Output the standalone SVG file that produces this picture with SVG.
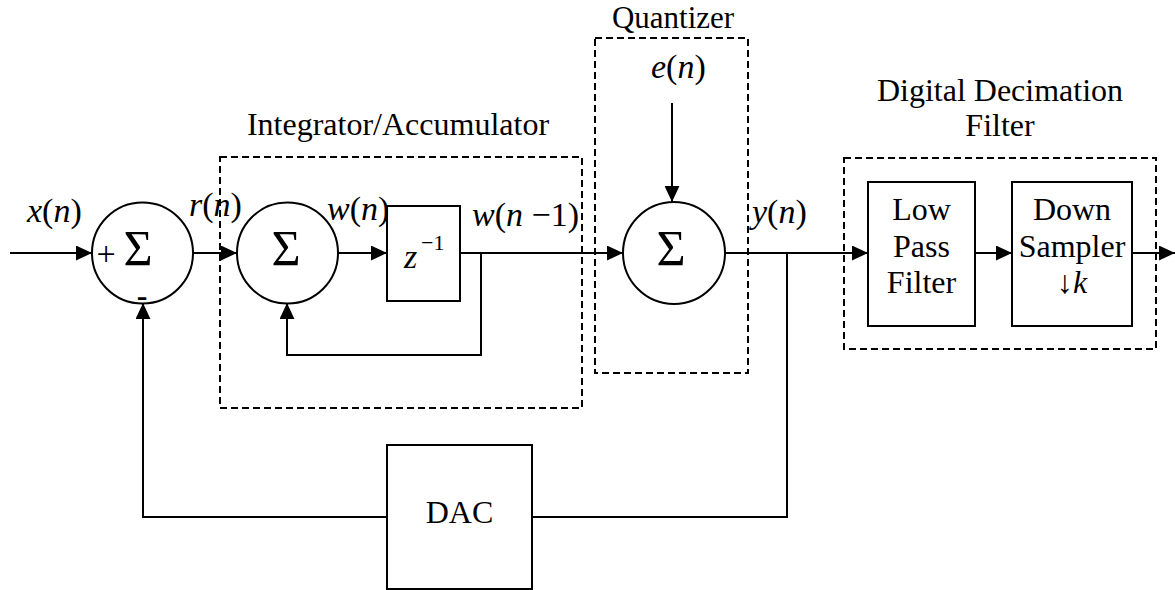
<svg xmlns="http://www.w3.org/2000/svg" width="1175" height="590" viewBox="0 0 1175 590">
<style>
  text { font-family: "Liberation Serif", "Times New Roman", serif; fill: #000; }
  .lbl { font-size: 32px; }
  .math { font-size: 34px; }
  .it { font-style: italic; }
  .sig { font-size: 50px; text-anchor: middle; }
  .c { text-anchor: middle; }
  .blk { fill: #fff; stroke: #000; stroke-width: 2; }
  .dash { fill: none; stroke: #000; stroke-width: 2; stroke-dasharray: 7 4; }
  .wire { fill: none; stroke: #000; stroke-width: 2; }
</style>
<defs>
  <marker id="arr" viewBox="0 0 15 14" refX="15" refY="7" markerWidth="16" markerHeight="15" markerUnits="userSpaceOnUse" orient="auto">
    <path d="M0,0 L15,7 L0,14 Z" fill="#000"/>
  </marker>
</defs>
<rect width="1175" height="590" fill="#fff"/>

<g id="integrator-box">
  <rect class="dash" x="220" y="157" width="362" height="251"/>
  <text class="lbl c" x="398" y="135">Integrator/Accumulator</text>
</g>
<g id="quantizer-box">
  <rect class="dash" x="595" y="38" width="153" height="335"/>
  <text class="lbl c" style="font-size:31px" x="673" y="28">Quantizer</text>
</g>
<g id="decimation-box">
  <rect class="dash" x="844" y="158" width="312" height="191"/>
  <text class="lbl c" x="1000" y="101">Digital Decimation</text>
  <text class="lbl c" x="1000" y="136">Filter</text>
</g>

<g id="connectors">
  <line class="wire" x1="10" y1="253" x2="92" y2="253" marker-end="url(#arr)"/>
  <line class="wire" x1="193" y1="253" x2="237" y2="253" marker-end="url(#arr)"/>
  <line class="wire" x1="338" y1="253" x2="387" y2="253" marker-end="url(#arr)"/>
  <line class="wire" x1="460" y1="253" x2="623" y2="253" marker-end="url(#arr)"/>
  <polyline class="wire" points="481,253 481,355 287,355 287,303" marker-end="url(#arr)"/>
  <line class="wire" x1="672" y1="103" x2="672" y2="202" marker-end="url(#arr)"/>
  <line class="wire" x1="725" y1="253" x2="868" y2="253" marker-end="url(#arr)"/>
  <line class="wire" x1="975" y1="253" x2="1012" y2="253" marker-end="url(#arr)"/>
  <line class="wire" x1="1132" y1="253" x2="1175" y2="253" marker-end="url(#arr)"/>
  <polyline class="wire" points="787,253 787,517 532,517"/>
  <polyline class="wire" points="387,517 143,517 143,303" marker-end="url(#arr)"/>
</g>

<g id="sum1">
  <circle class="blk" cx="142.5" cy="253" r="50.5"/>
  <text class="sig" x="138" y="265">Σ</text>
  <text style="font-size:34px" class="c" x="106" y="265">+</text>
  <text style="font-size:32px;font-weight:bold" class="c" x="142" y="306">-</text>
</g>
<g id="sum2">
  <circle class="blk" cx="287.5" cy="253" r="50.5"/>
  <text class="sig" x="286" y="265">Σ</text>
</g>
<g id="delay">
  <rect class="blk" x="387" y="206" width="73" height="95"/>
  <text class="math it" x="404" y="268">z</text>
  <text style="font-size:22px" x="421" y="250">−1</text>
</g>
<g id="sum3">
  <circle class="blk" cx="674" cy="253" r="51"/>
  <text class="sig" x="671" y="265">Σ</text>
</g>
<g id="lpf">
  <rect class="blk" x="868" y="182" width="107" height="144"/>
  <text class="lbl c" x="921.5" y="220">Low</text>
  <text class="lbl c" x="921.5" y="257">Pass</text>
  <text class="lbl c" x="921.5" y="293">Filter</text>
</g>
<g id="downsampler">
  <rect class="blk" x="1012" y="182" width="120" height="144"/>
  <text class="lbl c" x="1072" y="220">Down</text>
  <text class="lbl c" x="1072" y="257">Sampler</text>
  <text class="lbl c" x="1072" y="293">↓<tspan class="it">k</tspan></text>
</g>
<g id="dac">
  <rect class="blk" x="387" y="445" width="145" height="144"/>
  <text class="lbl c" x="459.5" y="523">DAC</text>
</g>

<g id="labels">
  <text class="math" x="27" y="222"><tspan class="it">x</tspan>(<tspan class="it">n</tspan>)</text>
  <text class="math" x="189" y="216"><tspan class="it">r</tspan>(<tspan class="it">n</tspan>)</text>
  <text class="math" x="327" y="220"><tspan class="it">w</tspan>(<tspan class="it">n</tspan>)</text>
  <text class="math" x="472" y="226"><tspan class="it">w</tspan>(<tspan class="it">n</tspan> −1)</text>
  <text class="math" x="651" y="78"><tspan class="it">e</tspan>(<tspan class="it">n</tspan>)</text>
  <text class="math" x="752" y="223"><tspan class="it">y</tspan>(<tspan class="it">n</tspan>)</text>
</g>
</svg>
